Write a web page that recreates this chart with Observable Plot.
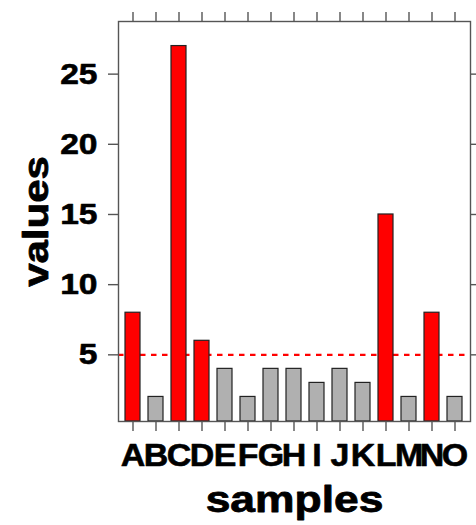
<!DOCTYPE html>
<html>
<head>
<meta charset="utf-8">
<script src="https://cdn.jsdelivr.net/npm/d3@7"></script>
<script src="https://cdn.jsdelivr.net/npm/@observablehq/plot@0.6"></script>
<style>
  html, body { margin: 0; padding: 0; background: #fff; }
</style>
</head>
<body>
<div id="chart"></div>
<script>
const samples = ["A","B","C","D","E","F","G","H","I","J","K","L","M","N","O"];
const values = [8, 2, 27, 6, 4, 2, 4, 4, 3, 4, 3, 15, 2, 8, 2];
const threshold = 5;
const yTicks = [5, 10, 15, 20, 25];
const xTitle = "samples";
const yTitle = "values";

const yLimits = [0.25, 28.75];
const rows = samples.map((s, i) => ({sample: s, value: values[i]}));

const chart = Plot.plot({
  width: 476,
  height: 525,
  marginLeft: 118,
  marginRight: 6,
  marginTop: 21,
  marginBottom: 104,
  style: {fontFamily: "'Liberation Sans', Arial, sans-serif", fontWeight: "bold", color: "#000", background: "#fff"},
  x: {type: "band", domain: samples, paddingInner: 1/3, paddingOuter: 0.2667},
  y: {domain: yLimits},
  color: {type: "identity"},
  marks: [
    Plot.ruleY([threshold], {stroke: "#ff0000", strokeWidth: 2.2, strokeDasharray: "5.5,5.5"}),
    Plot.barY(rows, {
      x: "sample",
      y1: yLimits[0],
      y2: "value",
      fill: d => d.value > threshold ? "#ff0000" : "#b0b0b0",
      stroke: "#222",
      strokeWidth: 1.2,
      inset: 0
    }),
    Plot.frame({stroke: "#555", strokeWidth: 1.4}),
    Plot.axisY({ticks: yTicks, tickSize: 10, tickPadding: 11, fontSize: 30, label: null, stroke: "#555", strokeWidth: 1.4}),
    Plot.axisY({anchor: "right", ticks: yTicks, tickSize: 10, tickFormat: () => "", label: null, stroke: "#555", strokeWidth: 1.4}),
    Plot.axisX({tickSize: 10, tickPadding: 12, fontSize: 32, label: null, stroke: "#555", strokeWidth: 1.4}),
    Plot.axisX({anchor: "top", tickSize: 10, tickFormat: () => "", label: null, stroke: "#555", strokeWidth: 1.4}),
    Plot.text([xTitle], {text: d => d, frameAnchor: "bottom", dy: 90.7, lineAnchor: "bottom", textAnchor: "middle", fontSize: 37, fontWeight: "bold", fill: "#000"}),
    Plot.text([yTitle], {text: d => d, frameAnchor: "left", dx: -71, rotate: -90, lineAnchor: "bottom", textAnchor: "middle", fontSize: 35, fontWeight: "bold", fill: "#000"})
  ]
});
document.getElementById("chart").appendChild(chart);

// The reference glyphs are wider and heavier than Arial-metric glyphs; stretch and embolden text.
chart.querySelectorAll("text").forEach(t => {
  const s = t.textContent.trim();
  if (!s) return;
  const isTitle = (s === xTitle || s === yTitle);
  const k = isTitle ? 1.2 : (/^\d+$/.test(s) ? 1.12 : 1.06);
  const len = t.getComputedTextLength();
  if (len > 0) {
    t.setAttribute("textLength", (len * k).toFixed(2));
    t.setAttribute("lengthAdjust", "spacingAndGlyphs");
  }
  t.style.stroke = "#000";
  t.style.strokeWidth = isTitle ? "0.8" : "0.6";
  t.style.strokeLinejoin = "round";
});
</script>
</body>
</html>
